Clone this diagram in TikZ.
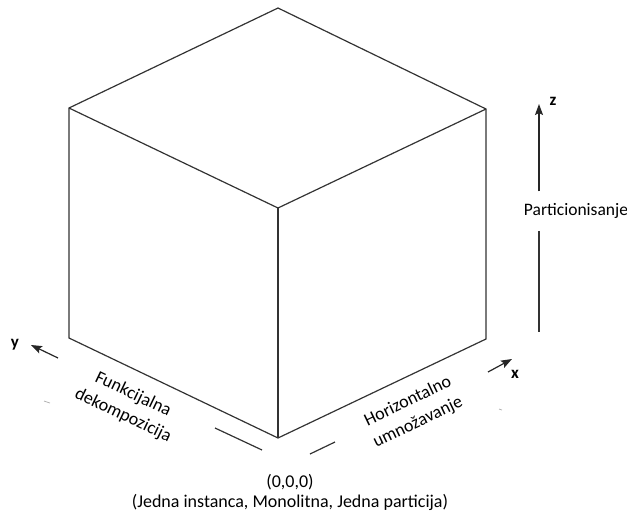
\documentclass[tikz,border=0pt]{standalone}
\usepackage{fontspec}
\setmainfont{Carlito}
\usetikzlibrary{arrows.meta}

\begin{document}
\begin{tikzpicture}[x=1pt,y=-1pt,
    edge/.style={line width=1.2pt,black!80},
    axis/.style={line width=1.2pt,black!85,-{Stealth[length=11pt,width=8pt,inset=2pt]}},
    faint/.style={line width=0.8pt,black!30},
    lbl/.style={font=\fontsize{18}{23}\selectfont,align=center,inner sep=0pt},
    axlbl/.style={font=\fontsize{17}{17}\selectfont\bfseries,inner sep=0pt}]
      \useasboundingbox (0,0) rectangle (627,512);
      % cube
      \coordinate (top) at (278,8);
      \coordinate (lt) at (69,108);
      \coordinate (rt) at (486,109);
      \coordinate (ft) at (278,208);
      \coordinate (lb) at (69,338);
      \coordinate (rb) at (486,339);
      \coordinate (fb) at (278,438);
      \draw[edge] (top) -- (lt) -- (lb) -- (fb) -- (rb) -- (rt) -- cycle;
      \draw[edge] (lt) -- (ft) -- (rt);
      \draw[edge] (ft) -- (fb);
      % axes
      \coordinate (ytail) at (58,358);
      \coordinate (ytip) at (31,345);
      \coordinate (xtail) at (488,372);
      \coordinate (xtip) at (512,359);
      \coordinate (ztip) at (539,104);
      \coordinate (zlow) at (539,332);
      \node[axlbl] (ylab) at (15,345) {y};
      \node[axlbl] (xlab) at (515,374) {x};
      \node[axlbl] (zlab) at (553,101) {z};
      \node[lbl,font=\fontsize{17.5}{20}\selectfont] (part) at (576,211) {Particionisanje};
      \draw[axis] (part.north -| ztip) ++(0,-12) -- (ztip);
      \draw[edge] (part.south -| zlow) ++(0,12) -- (zlow);
      \draw[axis] (ytail) -- (ytip);
      \draw[axis] (xtail) -- (xtip);
      % origin marks
      \coordinate (ol1) at (215,428);
      \coordinate (ol2) at (262,450);
      \coordinate (or1) at (310,454);
      \coordinate (or2) at (335,442);
      \draw[edge] (ol1) -- (ol2);
      \draw[edge] (or1) -- (or2);
      \draw[faint] (44,401) -- (50,403);
      \draw[faint] (499,409) -- (502,410);
      % labels
      \node[lbl,rotate=-25.6] (func) at (128,405) {Funkcijalna\\dekompozicija};
      \node[lbl,rotate=25.6] (horiz) at (413,412) {Horizontalno\\umnožavanje};
      \node[lbl,font=\fontsize{18}{20}\selectfont] (origin) at (290,492) {(0,0,0)\\(Jedna instanca, Monolitna, Jedna particija)};
\end{tikzpicture}
\end{document}
